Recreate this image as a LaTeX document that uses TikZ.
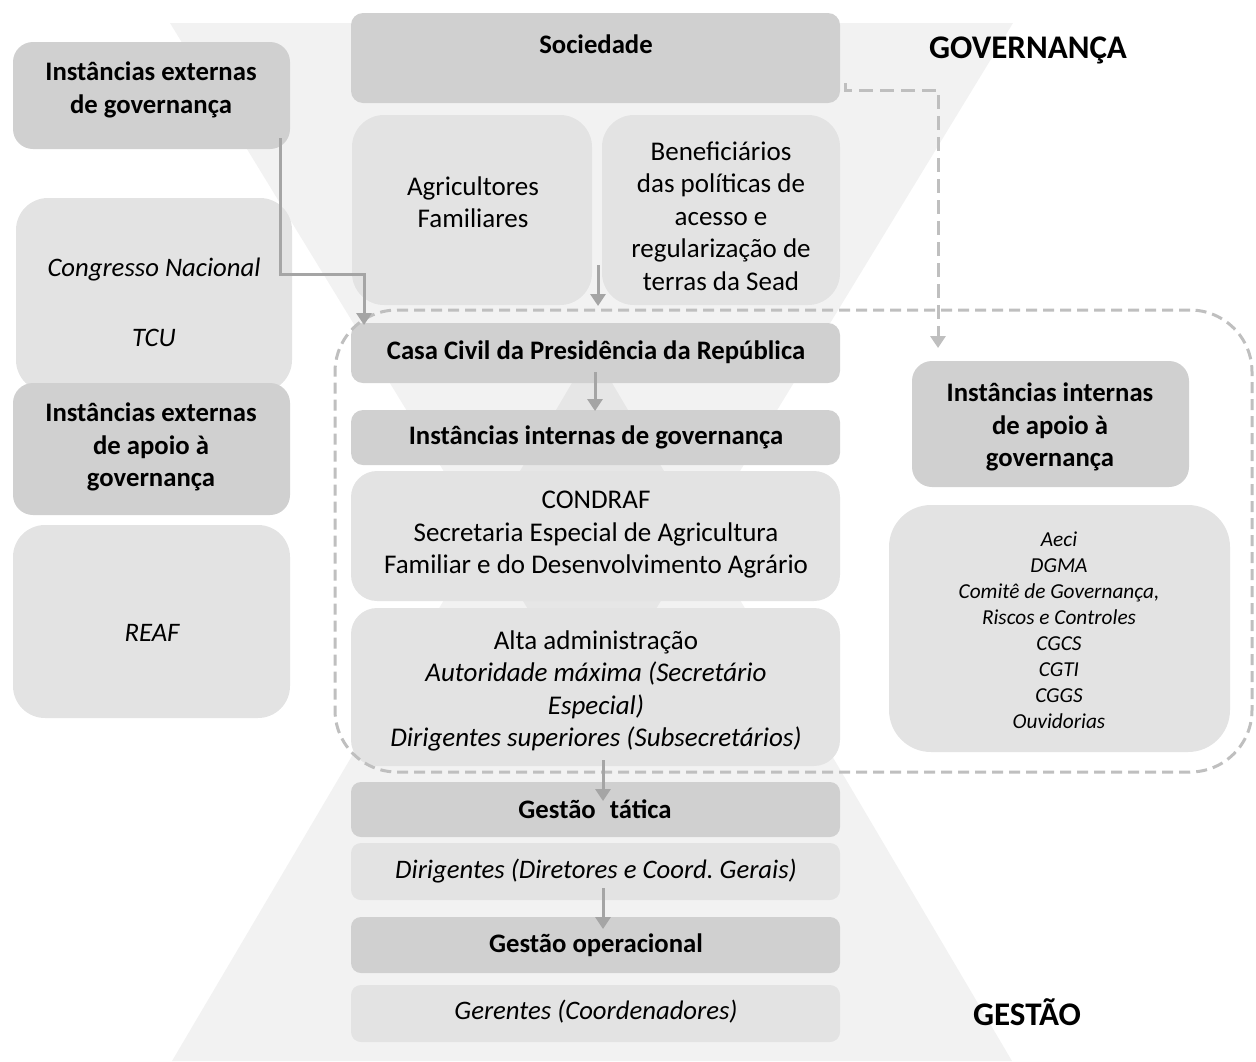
\documentclass[tikz,border=0pt]{standalone}
\usepackage{fontspec}
\setmainfont{Carlito}
\usetikzlibrary{arrows.meta,fit}
\definecolor{dk}{HTML}{D0D0D0}
\definecolor{lt}{HTML}{E3E3E3}
\definecolor{ar}{HTML}{A5A5A5}
\definecolor{ds}{HTML}{BFBFBF}
\frenchspacing
\begin{document}
\begin{tikzpicture}[x=1pt,y=-1pt,
 darkbox/.style={fill=dk, draw=none, inner sep=0pt},
 lightbox/.style={fill=lt, draw=none, inner sep=0pt},
 bt/.style={font=\fontsize{26.7}{32.5}\selectfont\bfseries, align=center, inner sep=0pt},
 rt/.style={font=\fontsize{27}{32.5}\selectfont, align=center, inner sep=0pt},
 itx/.style={font=\fontsize{26.7}{32.5}\selectfont\itshape, align=center, inner sep=0pt},
 st/.style={font=\fontsize{21.3}{26}\selectfont\itshape, align=center, inner sep=0pt},
 bigt/.style={font=\fontsize{33}{40}\selectfont\bfseries, inner sep=0pt},
 arr/.style={draw=ar, line width=3pt, -{Triangle[length=12pt,width=15pt]}},
 darr/.style={draw=ds, line width=3pt, dash pattern=on 14pt off 7pt, -{Triangle[length=12pt,width=15pt]}}
]
\useasboundingbox (0,0) rectangle (1256,1061);
% hourglass background
\fill[black, opacity=0.05] (170,23) -- (1013,23) -- (592,714) -- cycle;
\fill[black, opacity=0.05] (592,349) -- (1012,1061) -- (172,1061) -- cycle;

% left column
\node[darkbox, rounded corners=20pt, fit={(13,42) (290,149)}] (extgov) {};
\node[lightbox, rounded corners=32pt, fit={(16,198) (292,392)}] (congr) {};
\node[darkbox, rounded corners=20pt, fit={(13,383) (290,515)}] (extapoio) {};
\node[lightbox, rounded corners=32pt, fit={(13,525) (290,718)}] (reaf) {};

% center column
\node[darkbox, rounded corners=12pt, fit={(351,13) (840,103)}] (soc) {};
\node[lightbox, rounded corners=32pt, fit={(352,115) (592,305)}] (agri) {};
\node[lightbox, rounded corners=32pt, fit={(602,115) (840,305)}] (benef) {};
\node[darkbox, rounded corners=12pt, fit={(351,323) (840,383)}] (casa) {};
\node[darkbox, rounded corners=12pt, fit={(351,410) (840,465)}] (intgov) {};
\node[lightbox, rounded corners=26pt, fit={(351,471) (840,601)}] (condraf) {};
\node[lightbox, rounded corners=26pt, fit={(351,608) (840,766)}] (alta) {};
\node[darkbox, rounded corners=10pt, fit={(351,782) (840,837)}] (tatica) {};
\node[lightbox, rounded corners=10pt, fit={(351,843) (840,900)}] (dirig) {};
\node[darkbox, rounded corners=10pt, fit={(351,917) (840,973)}] (oper) {};
\node[lightbox, rounded corners=10pt, fit={(351,985) (840,1042)}] (geren) {};

% right column
\node[darkbox, rounded corners=20pt, fit={(912,361) (1189,487)}] (intapoio) {};
\node[lightbox, rounded corners=42pt, fit={(889,505) (1230,752)}] (lista) {};

% dashed group
\node[draw=ds, line width=3pt, dash pattern=on 11pt off 6pt, rounded corners=62pt, inner sep=0pt, fit={(335,310) (1252,772)}] (grp) {};

% texts
\node[bt] (t1) at (151,90) {Instâncias externas\\de governança};
\node[itx] (t2) at (154,270) {Congresso Nacional};
\node[itx] (t3) at (154,338) {TCU};
\node[bt] (t4) at (151,447) {Instâncias externas\\de apoio à\\governança};
\node[itx] (t5) at (152,633) {REAF};
\node[bt] (t6) at (596,44) {Sociedade};
\node[rt] (t7) at (473,202) {Agricultores\\Familiares};
\node[rt] (t8) at (721,216) {Beneficiários\\das políticas de\\acesso e\\regularização de\\terras da Sead};
\node[bt] (t9) at (596,352) {Casa Civil da Presidência da República};
\node[bt] (t10) at (596,437) {Instâncias internas de governança};
\node[rt] (t11) at (596,535) {CONDRAF\\Secretaria Especial de Agricultura\\Familiar e do Desenvolvimento Agrário};
\node[rt] (t12) at (596,691) {Alta administração\\\itshape Autoridade máxima (Secretário\\\itshape Especial)\\\itshape Dirigentes superiores (Subsecretários)};
\node[bt] (t13) at (595,809) {Gestão\hspace{14pt}tática};
\node[itx] (t14) at (596,871) {Dirigentes (Diretores e Coord. Gerais)};
\node[bt] (t15) at (596,945) {Gestão operacional};
\node[itx] (t16) at (596,1012) {Gerentes (Coordenadores)};
\node[bt] (t17) at (1050,427) {Instâncias internas\\de apoio à\\governança};
\node[st] (t18) at (1059,630) {Aeci\\DGMA\\Comitê de Governança,\\Riscos e Controles\\CGCS\\CGTI\\CGGS\\Ouvidorias};
\node[bigt] (t19) at (1028,50) {GOVERNANÇA};
\node[bigt] (t20) at (1027,1012) {GESTÃO};

% connectors
\coordinate (a1s) at (280,138);
\coordinate (a1m) at (364,274);
\coordinate (a1e) at (364,325);
\draw[arr] (a1s) |- (a1m) -- (a1e);
\coordinate (a2s) at (598,265);
\coordinate (a2e) at (598,306);
\draw[arr] (a2s) -- (a2e);
\coordinate (a3s) at (595,372);
\coordinate (a3e) at (595,411);
\draw[arr] (a3s) -- (a3e);
\coordinate (a4s) at (603,760);
\coordinate (a4e) at (603,801);
\draw[arr] (a4s) -- (a4e);
\coordinate (a5s) at (603,888);
\coordinate (a5e) at (603,929);
\draw[arr] (a5s) -- (a5e);
\coordinate (d1s) at (845,83);
\coordinate (d1m) at (938,90);
\coordinate (d1e) at (938,348);
\draw[darr] (d1s) |- (d1m) -- (d1e);
\end{tikzpicture}
\end{document}
